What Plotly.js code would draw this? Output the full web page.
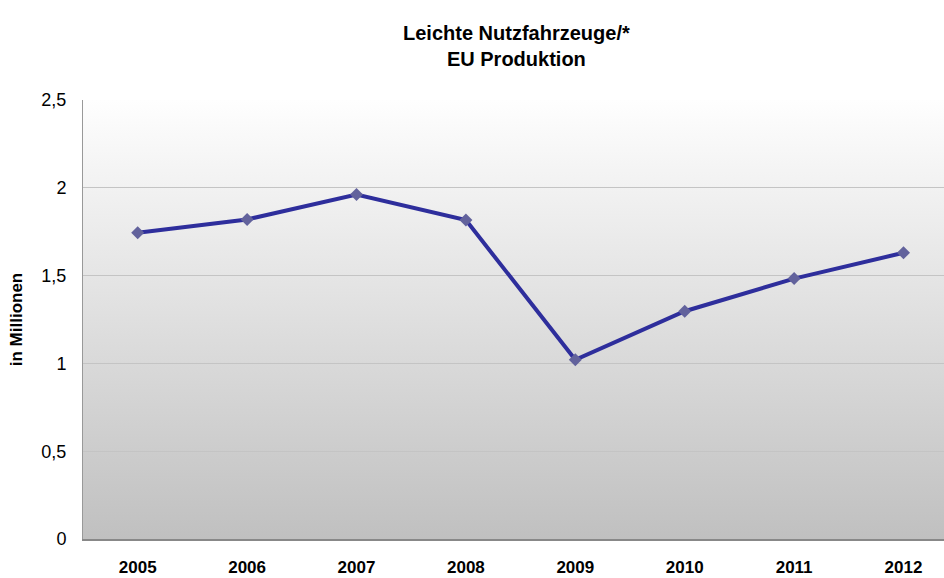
<!DOCTYPE html>
<html>
<head>
<meta charset="utf-8">
<script src="https://cdn.plot.ly/plotly-3.0.1.min.js"></script>
<style>html,body{margin:0;padding:0;background:#fff;}#chart{width:944px;height:578px;}</style>
</head>
<body>
<div id="chart"></div>
<script>
const years = ['2005','2006','2007','2008','2009','2010','2011','2012'];
const production = [1.744, 1.82, 1.962, 1.816, 1.021, 1.297, 1.483, 1.63];
const yTicks = [0, 0.5, 1, 1.5, 2, 2.5];

const grad = 'data:image/svg+xml;utf8,' + encodeURIComponent(
  '<svg xmlns="http://www.w3.org/2000/svg" width="100" height="100" preserveAspectRatio="none">' +
  '<defs><linearGradient id="g" x1="0" y1="0" x2="0" y2="1">' +
  '<stop offset="0" stop-color="#fefefe"/><stop offset="1" stop-color="#c0c0c0"/>' +
  '</linearGradient></defs><rect width="100" height="100" fill="url(#g)"/></svg>');

const trace = {
  x: years.map((_, i) => i),
  y: production,
  type: 'scatter',
  mode: 'lines+markers',
  line: {color: '#2e2e9c', width: 4},
  marker: {symbol: 'diamond', size: 10, color: '#62629c'},
  hoverinfo: 'x+y'
};

const F = 'Liberation Sans, Arial, sans-serif';
const layout = {
  width: 944, height: 578,
  margin: {l: 83, r: 0, t: 100, b: 39},
  paper_bgcolor: '#ffffff',
  plot_bgcolor: 'rgba(0,0,0,0)',
  separators: ',.',
  showlegend: false,
  title: {
    text: '<b>Leichte Nutzfahrzeuge/*<br>EU Produktion</b>',
    font: {family: F, size: 20, color: '#000'},
    x: 0.547, xanchor: 'center', y: 0.93, yanchor: 'top'
  },
  xaxis: {
    range: [-0.5, 7.37],
    tickvals: years.map((_, i) => i),
    ticktext: years.map(y => '<b>' + y + '</b>'),
    tickfont: {family: F, size: 17, color: '#000'},
    showgrid: false, zeroline: false,
    showline: true, linecolor: '#888', linewidth: 2,
    ticks: '', ticklabelstandoff: 12
  },
  yaxis: {
    range: [0, 2.5],
    tickvals: yTicks,
    tickfont: {family: F, size: 18, color: '#000'},
    showgrid: true, gridcolor: '#c4c4c4', gridwidth: 1,
    zeroline: false, showline: true, linecolor: '#999', linewidth: 1,
    ticks: '', ticklabelstandoff: 12,
    title: {text: '<b>in Millionen</b>', font: {family: F, size: 17, color: '#000'}, standoff: 14}
  },
  images: [{
    source: grad, xref: 'paper', yref: 'paper', x: 0, y: 1,
    sizex: 1, sizey: 1, xanchor: 'left', yanchor: 'top',
    sizing: 'stretch', layer: 'below'
  }]
};

Plotly.newPlot('chart', [trace], layout, {displayModeBar: false, staticPlot: true});
</script>
</body>
</html>
